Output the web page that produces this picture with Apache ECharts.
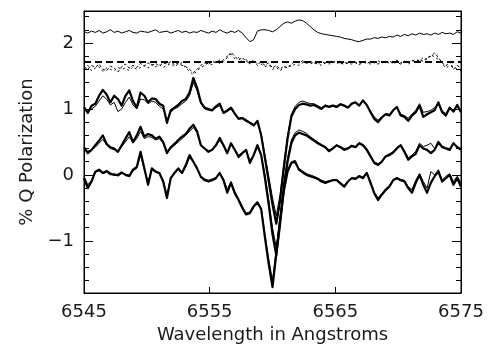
<!DOCTYPE html>
<html><head><meta charset="utf-8">
<script src="https://cdn.jsdelivr.net/npm/echarts@6/dist/echarts.min.js"></script>
<style>html,body{margin:0;padding:0;background:#fff}#c{width:490px;height:353px}</style>
</head><body><div id="c"></div>
<script>
const wavelengths = [6545.0,6545.3,6545.6,6545.9,6546.2,6546.5,6546.8,6547.1,6547.4,6547.7,
6548.0,6548.3,6548.6,6548.9,6549.2,6549.5,6549.8,6550.1,6550.4,6550.7,
6551.0,6551.3,6551.6,6551.9,6552.2,6552.5,6552.8,6553.1,6553.4,6553.7,
6554.0,6554.3,6554.6,6554.9,6555.2,6555.5,6555.8,6556.1,6556.4,6556.7,
6557.0,6557.3,6557.6,6557.9,6558.2,6558.5,6558.8,6559.1,6559.4,6559.7,
6560.0,6560.3,6560.6,6560.9,6561.2,6561.5,6561.8,6562.1,6562.4,6562.7,
6563.0,6563.3,6563.6,6563.9,6564.2,6564.5,6564.8,6565.1,6565.4,6565.7,
6566.0,6566.3,6566.6,6566.9,6567.2,6567.5,6567.8,6568.1,6568.4,6568.7,
6569.0,6569.3,6569.6,6569.9,6570.2,6570.5,6570.8,6571.1,6571.4,6571.7,
6572.0,6572.3,6572.6,6572.9,6573.2,6573.5,6573.8,6574.1,6574.4,6574.7,
6575.0];

const topPairThick = [1.03,0.94,1.05,1.08,1.2,1.29,1.22,1.1,1.2,1.15,
1.05,1.2,1.28,1.12,1.02,1.25,1.2,1.1,1.16,1.15,
1.08,1.05,0.79,0.98,1.02,1.06,1.12,1.15,1.25,1.47,
1.32,1.1,1.02,1.0,0.98,1.04,1.08,0.94,0.98,1.02,
0.93,0.85,0.86,0.82,0.79,0.75,0.82,0.6,0.25,-0.1,
-0.45,-0.74,-0.4,0.1,0.55,0.88,1.0,1.06,1.08,1.07,
1.05,1.06,1.03,1.0,1.05,1.03,1.05,1.03,1.07,1.05,
1.02,1.08,1.1,1.05,1.13,1.06,0.95,0.85,0.8,0.87,
0.92,0.9,0.98,1.03,0.9,0.88,0.82,0.9,0.95,1.05,
0.88,0.92,0.95,0.98,1.1,0.95,0.9,1.02,0.96,1.06,
0.95];
const topPairThin = [1.0,0.96,1.0,1.04,1.12,1.2,1.15,1.06,1.1,0.96,
1.0,1.1,1.18,1.06,1.0,1.15,1.14,1.08,1.12,1.1,
1.04,1.0,0.82,0.95,1.0,1.03,1.08,1.12,1.2,1.4,
1.28,1.08,1.0,0.98,0.97,1.02,1.05,0.93,0.96,1.0,
0.92,0.86,0.87,0.84,0.8,0.77,0.8,0.62,0.3,-0.02,
-0.35,-0.62,-0.3,0.18,0.6,0.92,1.04,1.1,1.12,1.1,
1.08,1.08,1.05,1.02,1.06,1.04,1.06,1.04,1.08,1.06,
1.03,1.09,1.1,1.06,1.12,1.06,0.97,0.88,0.83,0.88,
0.93,0.92,0.98,1.02,0.92,0.9,0.86,0.92,0.98,1.08,
0.95,0.96,0.98,1.02,1.08,0.97,0.93,1.03,0.98,1.04,
0.97];
const midPairThick = [0.42,0.33,0.38,0.45,0.52,0.6,0.47,0.42,0.4,0.35,
0.45,0.55,0.65,0.5,0.6,0.73,0.58,0.62,0.6,0.55,
0.58,0.5,0.33,0.42,0.47,0.53,0.58,0.62,0.7,0.76,
0.66,0.45,0.4,0.35,0.38,0.45,0.56,0.45,0.33,0.48,
0.38,0.27,0.33,0.38,0.18,0.3,0.45,0.3,-0.05,-0.45,
-0.9,-1.22,-0.75,-0.2,0.2,0.48,0.6,0.64,0.62,0.6,
0.56,0.52,0.48,0.45,0.42,0.36,0.4,0.45,0.42,0.38,
0.4,0.44,0.42,0.48,0.45,0.38,0.28,0.18,0.15,0.2,
0.28,0.3,0.34,0.4,0.45,0.35,0.23,0.28,0.32,0.45,
0.4,0.38,0.33,0.38,0.5,0.42,0.4,0.38,0.48,0.42,
0.38];
const midPairThin = [0.4,0.36,0.38,0.42,0.48,0.54,0.45,0.4,0.38,0.37,
0.43,0.5,0.58,0.48,0.55,0.66,0.55,0.58,0.57,0.53,
0.55,0.48,0.36,0.4,0.45,0.5,0.55,0.6,0.66,0.72,
0.64,0.44,0.4,0.37,0.38,0.44,0.52,0.44,0.35,0.46,
0.38,0.3,0.34,0.37,0.22,0.3,0.42,0.3,0.0,-0.38,
-0.8,-1.1,-0.68,-0.12,0.26,0.53,0.64,0.68,0.66,0.63,
0.58,0.54,0.5,0.46,0.43,0.38,0.41,0.45,0.43,0.4,
0.41,0.45,0.43,0.49,0.46,0.4,0.3,0.2,0.17,0.21,
0.29,0.32,0.35,0.42,0.46,0.36,0.26,0.3,0.36,0.48,
0.43,0.45,0.48,0.4,0.46,0.44,0.41,0.4,0.46,0.43,
0.4];
const lowPairThick = [-0.05,-0.2,-0.1,0.05,0.08,0.03,0.06,0.02,0.0,0.0,
0.04,0.0,-0.02,0.08,0.12,0.35,0.1,-0.15,0.1,0.05,
0.03,-0.1,-0.35,-0.05,0.03,0.1,0.03,0.15,0.3,0.2,
0.1,-0.03,-0.08,-0.1,-0.08,-0.05,0.03,-0.08,-0.27,-0.12,
-0.28,-0.38,-0.5,-0.6,-0.58,-0.48,-0.42,-0.52,-0.95,-1.35,
-1.7,-1.2,-0.7,-0.25,0.05,0.18,0.2,0.08,0.04,0.0,
-0.02,-0.04,-0.06,-0.1,-0.12,-0.1,-0.08,-0.08,-0.13,-0.18,
-0.1,-0.05,-0.06,-0.02,-0.05,0.03,-0.12,-0.28,-0.38,-0.3,
-0.23,-0.18,-0.08,-0.05,-0.08,-0.1,-0.2,-0.27,-0.12,0.0,
-0.15,-0.27,-0.12,-0.02,0.05,-0.1,-0.05,0.0,-0.15,-0.05,
-0.18];
const lowPairThin = [-0.02,-0.15,-0.08,0.04,0.06,0.02,0.04,0.0,0.02,-0.02,
0.02,0.01,0.0,0.06,0.1,0.3,0.08,-0.1,0.08,0.04,
0.02,-0.08,-0.3,-0.04,0.02,0.08,0.02,0.12,0.26,0.2,
0.08,-0.02,-0.06,-0.08,-0.06,-0.04,0.02,-0.06,-0.22,-0.1,
-0.25,-0.36,-0.48,-0.58,-0.56,-0.46,-0.4,-0.5,-0.9,-1.28,
-1.6,-1.12,-0.62,-0.2,0.08,0.2,0.22,0.1,0.06,0.02,
0.0,-0.02,-0.05,-0.08,-0.1,-0.09,-0.07,-0.07,-0.11,-0.16,
-0.09,-0.04,-0.05,-0.01,-0.03,0.04,-0.1,-0.26,-0.35,-0.28,
-0.21,-0.16,-0.07,-0.04,-0.07,-0.08,-0.18,-0.22,-0.08,0.02,
-0.1,-0.2,0.05,0.0,0.08,-0.08,-0.02,0.02,-0.1,-0.02,
-0.12];
const topLine = [2.17,2.15,2.18,2.16,2.19,2.15,2.17,2.2,2.16,2.18,
2.15,2.17,2.19,2.16,2.15,2.18,2.17,2.16,2.18,2.2,
2.16,2.17,2.18,2.15,2.17,2.19,2.16,2.18,2.15,2.17,
2.16,2.19,2.17,2.15,2.18,2.16,2.2,2.17,2.15,2.18,
2.16,2.19,2.15,2.08,2.02,2.05,2.18,2.2,2.2,2.19,
2.17,2.2,2.25,2.3,2.32,2.3,2.33,2.35,2.34,2.3,
2.25,2.2,2.16,2.14,2.13,2.12,2.11,2.1,2.09,2.07,
2.06,2.05,2.03,2.02,2.04,2.06,2.06,2.08,2.07,2.09,
2.08,2.1,2.09,2.12,2.1,2.13,2.11,2.14,2.12,2.15,
2.13,2.14,2.12,2.15,2.13,2.16,2.14,2.15,2.13,2.17,
2.15];
const dashedA = [1.64,1.6,1.66,1.63,1.68,1.6,1.58,1.65,1.62,1.56,
1.64,1.68,1.62,1.66,1.63,1.69,1.65,1.7,1.66,1.69,
1.65,1.7,1.68,1.72,1.67,1.7,1.66,1.64,1.6,1.55,
1.6,1.66,1.7,1.68,1.72,1.7,1.74,1.72,1.78,1.86,
1.8,1.74,1.78,1.72,1.7,1.74,1.68,1.71,1.66,1.7,
1.62,1.66,1.6,1.65,1.62,1.68,1.72,1.7,1.73,1.69,
1.72,1.7,1.68,1.72,1.69,1.71,1.7,1.73,1.68,1.71,
1.69,1.72,1.7,1.67,1.71,1.69,1.72,1.7,1.68,1.72,
1.7,1.73,1.69,1.71,1.68,1.72,1.7,1.74,1.71,1.75,
1.72,1.78,1.8,1.85,1.78,1.7,1.65,1.72,1.6,1.66,
1.62];
const dashedB = [1.6,1.66,1.58,1.62,1.64,1.57,1.62,1.6,1.58,1.63,
1.6,1.62,1.58,1.64,1.6,1.63,1.66,1.62,1.68,1.64,
1.67,1.63,1.66,1.69,1.64,1.68,1.7,1.62,1.57,1.52,
1.58,1.63,1.66,1.7,1.67,1.72,1.69,1.75,1.8,1.83,
1.76,1.78,1.72,1.75,1.68,1.72,1.66,1.68,1.64,1.67,
1.6,1.63,1.58,1.62,1.66,1.64,1.68,1.66,1.7,1.72,
1.68,1.71,1.69,1.66,1.7,1.68,1.72,1.69,1.71,1.67,
1.7,1.68,1.71,1.69,1.72,1.7,1.68,1.71,1.73,1.7,
1.72,1.69,1.71,1.74,1.7,1.73,1.68,1.72,1.75,1.73,
1.78,1.74,1.82,1.79,1.75,1.68,1.62,1.66,1.64,1.6,
1.58];
const dashLevel = 1.71;
const xTicks = [6545, 6555, 6565, 6575];
const yTicks = [-1, 0, 1, 2];
const yMinorTicks = [-1.6,-1.4,-1.2,-0.8,-0.6,-0.4,-0.2,0.2,0.4,0.6,0.8,1.2,1.4,1.6,1.8,2.2,2.4];

const X_MIN = 6545, X_MAX = 6575, Y_MIN = -1.79, Y_MAX = 2.485;
const FONT = 'DejaVu Sans';
const txt = '#1a1a1a';

function pts(arr){ return wavelengths.map((w,i)=>[w, arr[i]]); }
function line(arr, width, type){
  return {type:'line', data: pts(arr), symbol:'none', showSymbol:false, silent:true,
    xAxisIndex:0, yAxisIndex:0,
    lineStyle:{color:'#000', width: width, type: type || 'solid', join:'round'}};
}
function lineAxis(){ return {show:true, onZero:false, lineStyle:{color:'#000', width:1}}; }
function yAx(pos, ticks, len, showLine, showLabel, extra){
  return Object.assign({type:'value', position:pos, min:Y_MIN, max:Y_MAX,
    axisLine: showLine ? lineAxis() : {show:false, onZero:false},
    axisTick:{show:true, inside:true, length:len, customValues:ticks, lineStyle:{color:'#000', width:1}},
    axisLabel:{show:showLabel, customValues:ticks, color:txt, fontFamily:FONT, fontSize:18, margin:10,
      formatter:v=>String(v).replace('-', '\u2212')},
    splitLine:{show:false}}, extra||{});
}
const chart = echarts.init(document.getElementById('c'), null, {renderer:'canvas'});
chart.setOption({
  animation:false,
  backgroundColor:'#fff',
  grid:{left:84, right:29, top:11, bottom:60, containLabel:false,
    show:true, borderColor:'#000', borderWidth:1, backgroundColor:'transparent'},
  xAxis:[
    {type:'value', position:'bottom', min:X_MIN, max:X_MAX,
      axisLine:lineAxis(),
      axisTick:{show:true, inside:true, length:6, customValues:xTicks, lineStyle:{color:'#000'}},
      axisLabel:{customValues:xTicks, color:txt, fontFamily:FONT, fontSize:18, margin:10,
        showMinLabel:true, showMaxLabel:true, formatter:v=>String(v)},
      splitLine:{show:false},
      name:'Wavelength in Angstroms', nameLocation:'middle', nameGap:30,
      nameTextStyle:{color:txt, fontFamily:FONT, fontSize:18, verticalAlign:'top'}},
    {type:'value', position:'top', min:X_MIN, max:X_MAX,
      axisLine:lineAxis(),
      axisTick:{show:true, inside:true, length:6, customValues:xTicks, lineStyle:{color:'#000'}},
      axisLabel:{show:false}, splitLine:{show:false}}
  ],
  yAxis:[
    yAx('left', yTicks, 9, true, true, {name:'% Q Polarization', nameLocation:'middle', nameGap:45,
      nameTextStyle:{color:txt, fontFamily:FONT, fontSize:18}}),
    yAx('left', yMinorTicks, 5, false, false),
    yAx('right', yTicks, 9, true, false),
    yAx('right', yMinorTicks, 5, false, false)
  ],
  series:[
    line(topLine, 1),
    line(dashedA, 1, [3,2]),
    line(dashedB, 1, [2,3]),
    {type:'line', data:[[X_MIN, dashLevel],[X_MAX, dashLevel]], symbol:'none', silent:true,
      lineStyle:{color:'#000', width:2, type:[7,4]}},
    line(topPairThin, 1), line(topPairThick, 2.2),
    line(midPairThin, 1), line(midPairThick, 2.2),
    line(lowPairThin, 1), line(lowPairThick, 2.2)
  ]
});
</script></body></html>
